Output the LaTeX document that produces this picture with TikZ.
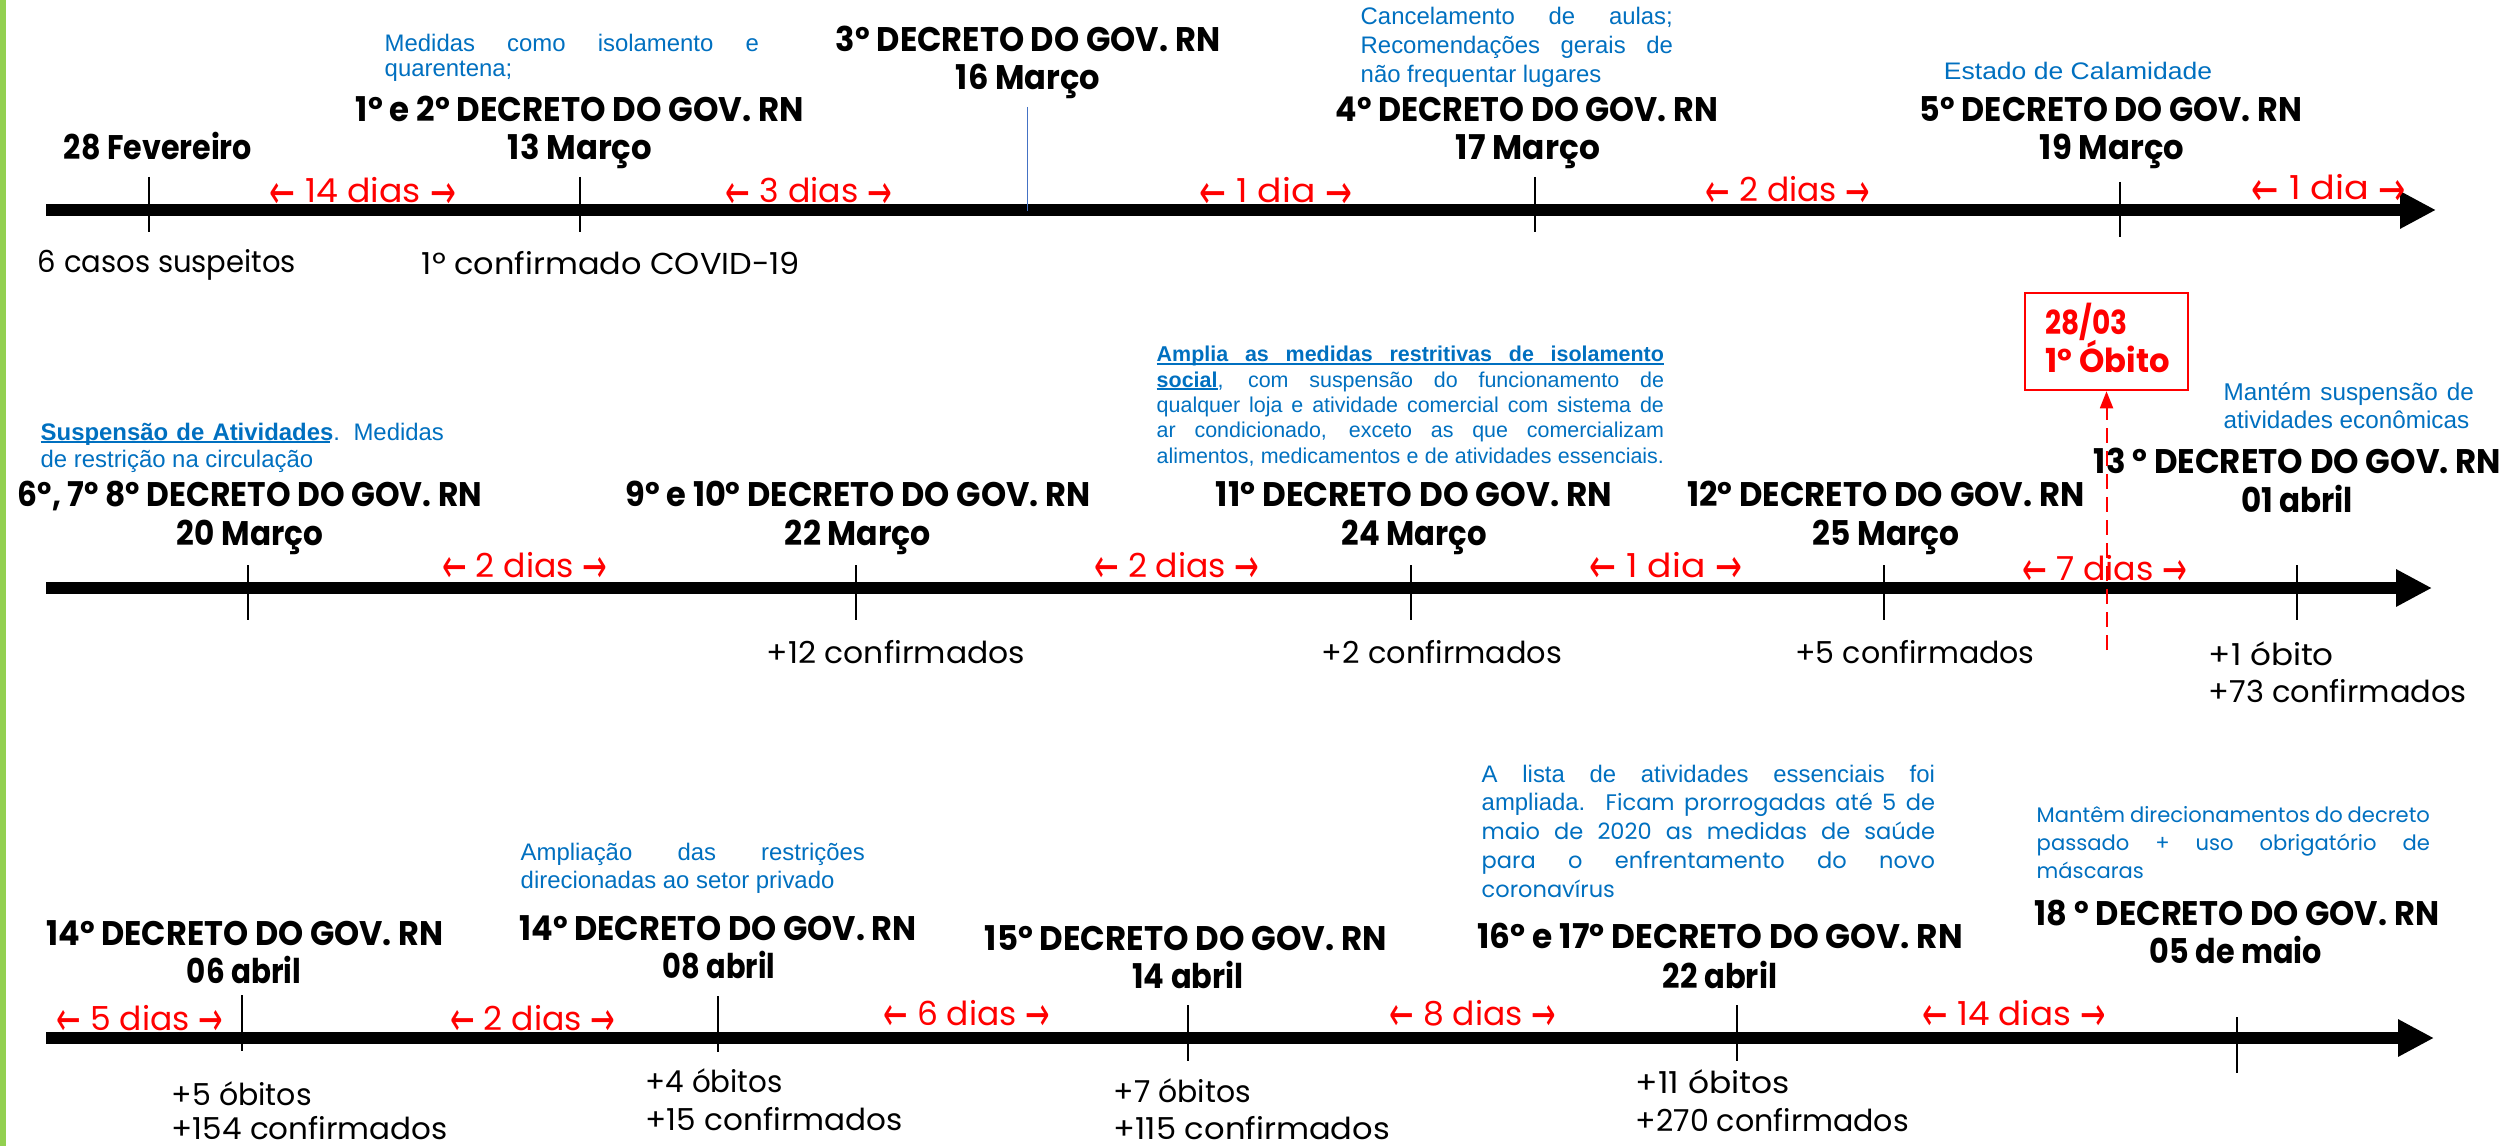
\documentclass[tikz,border=0pt]{standalone}
\usepackage{fontspec}
\usepackage{graphicx}
\setmainfont{Poppins}
\newfontfamily\arialf{Liberation Sans}
\newfontfamily\arrowf{DejaVu Sans}
\newfontfamily\cgf{Poppins}
\usetikzlibrary{arrows.meta}
\definecolor{bluetxt}{RGB}{0,112,192}
\definecolor{greenbar}{RGB}{146,208,80}
\definecolor{thinblue}{RGB}{68,114,196}
\newlength\fitlen
\newlength\ullen
\newcommand\fitw[2]{\settowidth\fitlen{#2}\scalebox{\fpeval{(#1)/(\the\fitlen)}}[1]{#2}}
\newcommand\ulx[1]{\settowidth\ullen{#1}\rlap{\rule[-0.8pt]{\ullen}{0.55pt}}{#1}}
\newcommand\arr[1]{\raisebox{-1.6pt}{\scalebox{0.62}[1]{\arrowf\fontsize{13.5}{13.5}\selectfont #1}}}
\newcommand\gaptxt[1]{\arr{←} #1 \arr{→}}
\newcommand\blk[2]{\vtop{\baselineskip=#1\lineskiplimit=-100pt\relax #2}}
\tikzset{
  hd/.style={anchor=base, inner sep=0pt, font=\bfseries\fontsize{9.7}{11}\selectfont},
  lb/.style={anchor=base, inner sep=0pt, font=\fontsize{8.6}{10}\selectfont},
  lbw/.style={lb, anchor=base west},
  gp/.style={anchor=base, inner sep=0pt, text=red, font=\fontsize{9.4}{11}\selectfont},
  note/.style={anchor=base west, inner sep=0pt, text=bluetxt, font=\arialf\fontsize{6.8}{8}\selectfont},
  obt/.style={anchor=base west, inner sep=0pt, text=red, font=\bfseries\fontsize{9.4}{11}\selectfont},
  tick/.style={line width=0.015cm, black},
  timeline/.style={line width=0.12cm, -{Triangle[length=0.36cm,width=0.35cm]}},
}
\begin{document}
\begin{tikzpicture}[x=0.01cm, y=-0.01cm]
\fill[white] (0,0) rectangle (2501,1146);
\useasboundingbox (0,0) rectangle (2501,1146);
\fill[greenbar] (0,0) rectangle (6,1146);

% ---------- timelines ----------
\coordinate (t1s) at (46,210);  \coordinate (t1e) at (2436,210);
\coordinate (t2s) at (46,588);  \coordinate (t2e) at (2432,588);
\coordinate (t3s) at (46,1038); \coordinate (t3e) at (2434,1038);
\draw[timeline] (t1s) -- (t1e);
\draw[timeline] (t2s) -- (t2e);
\draw[timeline] (t3s) -- (t3e);

% ---------- ticks ----------
\draw[tick] (149,177) -- (149,232);
\draw[tick] (580,177) -- (580,232);
\draw[tick] (1535,177) -- (1535,232);
\draw[tick] (2120,182) -- (2120,237);
\draw[thinblue, line width=0.01cm] (1027,107) -- (1027,211);

\draw[tick] (248,565) -- (248,620);
\draw[tick] (856,565) -- (856,620);
\draw[tick] (1411,565) -- (1411,620);
\draw[tick] (1884,565) -- (1884,620);
\draw[tick] (2297,565) -- (2297,620);

\draw[tick] (242,995) -- (242,1051);
\draw[tick] (718,996) -- (718,1052);
\draw[tick] (1188,1005) -- (1188,1061);
\draw[tick] (1737,1005) -- (1737,1061);
\draw[tick] (2237,1017) -- (2237,1073);

% ---------- row 1 ----------
\node[hd] (d1) at (158,160) {\fitw{1.88cm}{28 Fevereiro}};
\node[hd] (d2h) at (580,122) {\fitw{4.48cm}{1º e 2º DECRETO DO GOV. RN}};
\node[hd] (d2) at (580,160) {\fitw{1.44cm}{13 Março}};
\node[hd] (d3h) at (1028,52) {\fitw{3.84cm}{3º DECRETO DO GOV. RN}};
\node[hd] (d3) at (1028,90) {\fitw{1.44cm}{16 Março}};
\node[hd] (d4h) at (1527,122) {\fitw{3.82cm}{4º DECRETO DO GOV. RN}};
\node[hd] (d4) at (1528,160) {\fitw{1.44cm}{17 Março}};
\node[hd] (d5h) at (2111,122) {\fitw{3.82cm}{5º DECRETO DO GOV. RN}};
\node[hd] (d5) at (2112,160) {\fitw{1.44cm}{19 Março}};

\node[gp] (g11) at (363,203) {\fitw{1.86cm}{\gaptxt{14 dias}}};
\node[gp] (g12) at (809,203) {\fitw{1.66cm}{\gaptxt{3 dias}}};
\node[gp] (g13) at (1276,203) {\fitw{1.52cm}{\gaptxt{1 dia}}};
\node[gp] (g14) at (1788,202) {\fitw{1.64cm}{\gaptxt{2 dias}}};
\node[gp] (g15) at (2329,200) {\fitw{1.54cm}{\gaptxt{1 dia}}};

\node[lb] (c11) at (167,273) {\fitw{2.58cm}{6 casos suspeitos}};
\node[lb] (c12) at (611,275) {\fitw{3.78cm}{1º confirmado COVID-19}};

\node[note] (n1) at (384,52) {\blk{7.1pt}{\hbox to 3.74cm{Medidas como isolamento e}\hbox{quarentena;}}};
\node[note] (n2) at (1360,25) {\blk{8.2pt}{\hbox to 3.12cm{Cancelamento de aulas;}\hbox to 3.12cm{Recomendações gerais de}\hbox{não frequentar lugares}}};
\node[note, anchor=base] (n3) at (2078,80) {\fitw{2.68cm}{Estado de Calamidade}};

% ---------- row 2 ----------
\node[hd] (e1h) at (250,506) {\fitw{4.64cm}{6º, 7º 8º DECRETO DO GOV. RN}};
\node[hd] (e1) at (250,545) {\fitw{1.46cm}{20 Março}};
\node[hd] (e2h) at (858,506) {\fitw{4.65cm}{9º e 10º DECRETO DO GOV. RN}};
\node[hd] (e2) at (858,545) {\fitw{1.46cm}{22 Março}};
\node[hd] (e3h) at (1414,506) {\fitw{3.96cm}{11º DECRETO DO GOV. RN}};
\node[hd] (e3) at (1414,545) {\fitw{1.45cm}{24 Março}};
\node[hd] (e4h) at (1886,506) {\fitw{3.97cm}{12º DECRETO DO GOV. RN}};
\node[hd] (e4) at (1886,545) {\fitw{1.47cm}{25 Março}};
\node[hd] (e5h) at (2297.5,473) {\fitw{4.07cm}{13 º DECRETO DO GOV. RN}};
\node[hd] (e5) at (2297,512) {\fitw{1.12cm}{01 abril}};

\node[gp] (g21) at (525,577) {\fitw{1.65cm}{\gaptxt{2 dias}}};
\node[gp] (g22) at (1177,577) {\fitw{1.65cm}{\gaptxt{2 dias}}};
\node[gp] (g23) at (1666,577) {\fitw{1.52cm}{\gaptxt{1 dia}}};
\node[gp] (g24) at (2105,580) {\fitw{1.65cm}{\gaptxt{7 dias}}};

\node[lb] (c21) at (896,663) {\fitw{2.58cm}{+12 confirmados}};
\node[lb] (c22) at (1442,663) {\fitw{2.40cm}{+2 confirmados}};
\node[lb] (c23) at (1915,663) {\fitw{2.39cm}{+5 confirmados}};
\node[lbw] (c24) at (2208,665) {\fitw{1.25cm}{+1 óbito}};
\node[lbw] (c25) at (2208,702) {\fitw{2.58cm}{+73 confirmados}};

\node[note] (n4) at (40,440) {\blk{7.7pt}{\hbox to 4.03cm{\ulx{\bfseries Suspensão de Atividades}. Medidas}\hbox{de restrição na circulação}}};
\node[note, font=\arialf\fontsize{6.1}{7}\selectfont] (n5) at (1156,362) {\blk{7.2pt}{%
\hbox to 5.07cm{\rlap{\rule[-0.8pt]{5.07cm}{0.55pt}}\bfseries Amplia as medidas restritivas de isolamento}%
\hbox to 5.07cm{\ulx{\bfseries social}, com suspensão do funcionamento de}%
\hbox to 5.07cm{qualquer loja e atividade comercial com sistema de}%
\hbox to 5.07cm{ar condicionado, exceto as que comercializam}%
\hbox to 5.07cm{alimentos, medicamentos e de atividades essenciais.}}};
\node[note, font=\arialf\fontsize{6.9}{8}\selectfont] (n6) at (2223,400) {\blk{8.2pt}{\hbox to 2.50cm{Mantém suspensão de}\hbox{atividades econômicas}}};

% 1st death box
\node[draw=red, line width=0.025cm, minimum width=1.63cm, minimum height=0.97cm, inner sep=0pt] (obox) at (2106.5,341.5) {};
\node[obt] (ob1) at (2045,335) {\fitw{0.82cm}{28/03}};
\node[obt] (ob2) at (2045,373) {\fitw{1.24cm}{1º Óbito}};
\coordinate (obs) at (2106.5,650);
\draw[red, line width=0.02cm, dash pattern=on 0.15cm off 0.08cm, -{Triangle[length=0.17cm,width=0.13cm]}] (obs) -- (obox.south);

% ---------- row 3 ----------
\node[hd] (f1h) at (245,945) {\fitw{3.97cm}{14º DECRETO DO GOV. RN}};
\node[hd] (f1) at (244,983) {\fitw{1.14cm}{06 abril}};
\node[hd] (f2h) at (718,940) {\fitw{3.97cm}{14º DECRETO DO GOV. RN}};
\node[hd] (f2) at (719,978) {\fitw{1.12cm}{08 abril}};
\node[hd] (f3h) at (1186,950) {\fitw{4.02cm}{15º DECRETO DO GOV. RN}};
\node[hd] (f3) at (1188,988) {\fitw{1.11cm}{14 abril}};
\node[hd] (f4h) at (1720,948) {\fitw{4.85cm}{16º e 17º DECRETO DO GOV. RN}};
\node[hd] (f4) at (1720,988) {\fitw{1.14cm}{22 abril}};
\node[hd] (f5h) at (2237,925) {\fitw{4.04cm}{18 º DECRETO DO GOV. RN}};
\node[hd] (f5) at (2236,963) {\fitw{1.72cm}{05 de maio}};

\node[gp] (g31) at (140,1030) {\fitw{1.66cm}{\gaptxt{5 dias}}};
\node[gp] (g32) at (533,1030) {\fitw{1.65cm}{\gaptxt{2 dias}}};
\node[gp] (g33) at (967,1025) {\fitw{1.66cm}{\gaptxt{6 dias}}};
\node[gp] (g34) at (1473,1025) {\fitw{1.66cm}{\gaptxt{8 dias}}};
\node[gp] (g35) at (2014,1025) {\fitw{1.83cm}{\gaptxt{14 dias}}};

\node[lbw] (c31) at (171,1105) {\fitw{1.40cm}{+5 óbitos}};
\node[lbw] (c32) at (171,1139) {\fitw{2.76cm}{+154 confirmados}};
\node[lbw] (c33) at (645,1092) {\fitw{1.37cm}{+4 óbitos}};
\node[lbw] (c34) at (645,1130) {\fitw{2.57cm}{+15 confirmados}};
\node[lbw] (c35) at (1113,1102) {\fitw{1.37cm}{+7 óbitos}};
\node[lbw] (c36) at (1113,1139) {\fitw{2.76cm}{+115 confirmados}};
\node[lbw] (c37) at (1635,1093) {\fitw{1.54cm}{+11 óbitos}};
\node[lbw] (c38) at (1635,1131) {\fitw{2.73cm}{+270 confirmados}};

\node[note] (n7) at (520,860) {\blk{8.0pt}{\hbox to 3.44cm{Ampliação das restrições}\hbox{direcionadas ao setor privado}}};
\node[note] (n8) at (1481,782) {\blk{8.2pt}{%
\hbox to 4.53cm{A lista de atividades essenciais foi}%
\hbox to 4.53cm{ampliada. {\cgf\fontsize{6.4}{8}\selectfont Ficam prorrogadas até 5 de}}%
\hbox to 4.53cm{\cgf\fontsize{6.4}{8}\selectfont maio de 2020 as medidas de saúde}%
\hbox to 4.53cm{\cgf\fontsize{6.4}{8}\selectfont para o enfrentamento do novo}%
\hbox{\cgf\fontsize{6.4}{8}\selectfont coronavírus}}};
\node[note, font=\cgf\fontsize{6.0}{8}\selectfont] (n9) at (2036,822) {\blk{8.1pt}{%
\hbox to 3.93cm{Mantêm direcionamentos do decreto}%
\hbox to 3.93cm{passado + uso obrigatório de}%
\hbox{máscaras}}};
\end{tikzpicture}
\end{document}
